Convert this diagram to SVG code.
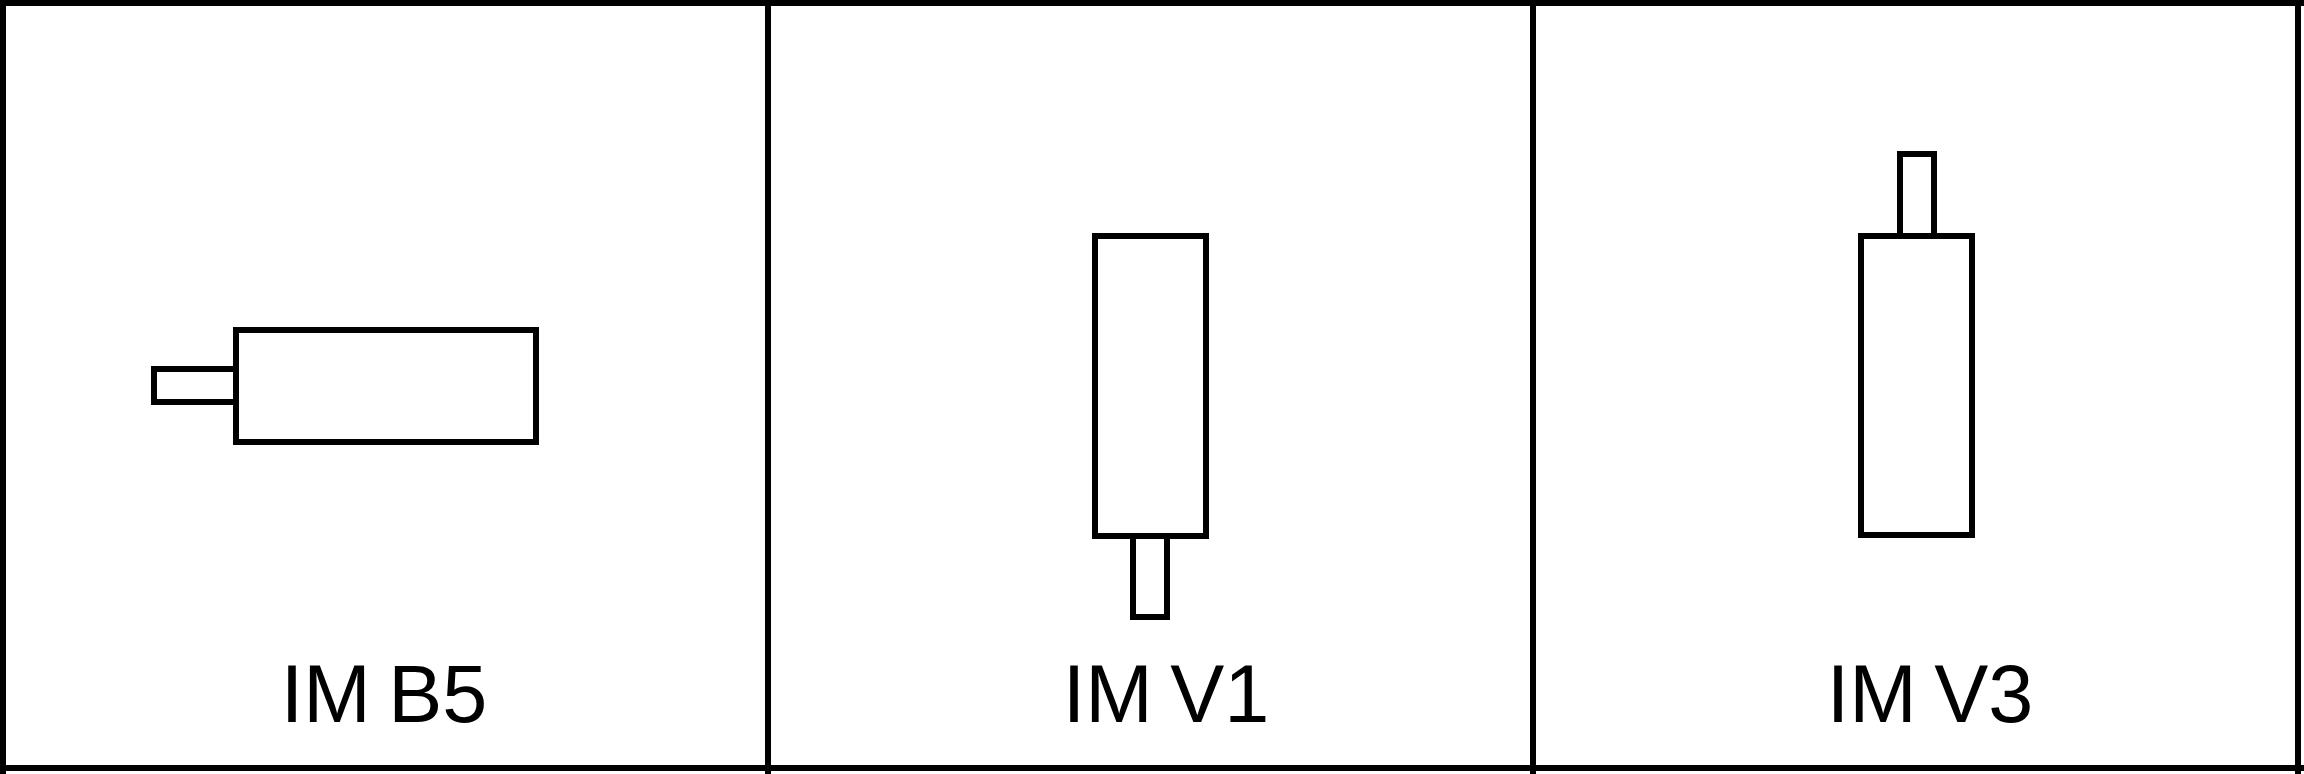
<svg xmlns="http://www.w3.org/2000/svg" width="2304" height="774" viewBox="0 0 2304 774">
<style>
.ln{stroke:#000;stroke-width:6;fill:none}
.sh{stroke:#000;stroke-width:6;fill:#fff}
.lbl{font-family:"Liberation Sans",Arial,sans-serif;font-size:81px;fill:#000;text-anchor:middle;word-spacing:-5px}
</style>
<rect width="2304" height="774" fill="#fff"/>
<g id="frame">
<line class="ln" x1="0" y1="3" x2="2304" y2="3"/>
<line class="ln" x1="0" y1="768" x2="2304" y2="768"/>
<line class="ln" x1="3" y1="0" x2="3" y2="774"/>
<line class="ln" x1="768" y1="0" x2="768" y2="774"/>
<line class="ln" x1="1533" y1="0" x2="1533" y2="774"/>
<line class="ln" x1="2298" y1="0" x2="2298" y2="774"/>
</g>
<g id="imb5">
<rect class="sh" x="154" y="369" width="82" height="33"/>
<rect class="sh" x="236" y="330" width="300" height="112"/>
<text class="lbl" x="384" y="722">IM B5</text>
</g>
<g id="imv1">
<rect class="sh" x="1095" y="236" width="111" height="300"/>
<rect class="sh" x="1133" y="536" width="34" height="81"/>
<text class="lbl" x="1166" y="722">IM V1</text>
</g>
<g id="imv3">
<rect class="sh" x="1900" y="154" width="34" height="82"/>
<rect class="sh" x="1861" y="236" width="111" height="299"/>
<text class="lbl" x="1930" y="722">IM V3</text>
</g>
<g id="connectors"></g>
</svg>
